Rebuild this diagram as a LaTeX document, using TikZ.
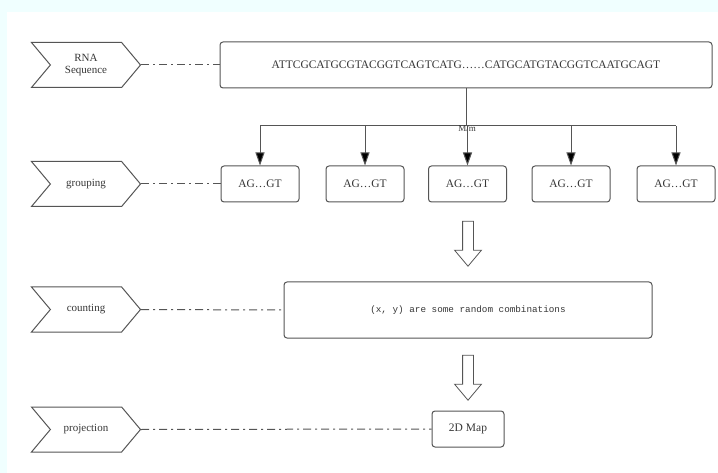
\documentclass[tikz,border=0pt]{standalone}
\usepackage{fontspec}
\setmainfont{Liberation Serif}
\setmonofont{Liberation Mono}
\usetikzlibrary{shapes.symbols,shapes.arrows,arrows.meta,positioning}
\definecolor{bgcyan}{RGB}{240,255,255}
\definecolor{linegray}{RGB}{85,85,85}
\definecolor{textgray}{RGB}{55,55,55}

\begin{document}
\begin{tikzpicture}[x=1pt,y=-1pt,line width=1pt,color=linegray,text=textgray,
        stage/.style={signal,signal from=west,signal to=east,signal pointer angle=100,
            draw,minimum width=109pt,minimum height=45pt,inner sep=0pt,
            font=\fontsize{11}{12}\selectfont,align=center},
        box/.style={draw,rounded corners=3pt,inner sep=0pt,font=\fontsize{11.5}{12}\selectfont},
        link/.style={dash pattern=on 8pt off 4pt on 2pt off 4pt},
        hollow/.style={single arrow,draw,shape border rotate=270,minimum height=45pt,
            minimum width=26pt,single arrow head extend=8pt,single arrow tip angle=80,
            inner sep=5pt,line width=0.8pt}]
        \useasboundingbox (0,0) rectangle (718,473);
        \fill[bgcyan] (0,0) rectangle (718,473);
        \fill[white] (7,12) rectangle (718,473);

        % left column
        \node[stage] (rna) at (86,65) {RNA\\Sequence};
        \node[stage] (grp) at (86,184) {grouping};
        \node[stage] (cnt) at (86,309.5) {counting};
        \node[stage] (proj) at (86,429.5) {projection};

        \node[box,minimum width=492pt,minimum height=46pt] (seq) at (466,65)
            {ATTCGCATGCGTACGGTCAGTCATG\ldots\ldots CATGCATGTACGGTCAATGCAGT};
        \foreach \i/\x in {1/260,2/365,3/467.5,4/571,5/676}
            \node[box,minimum width=78pt,minimum height=36pt] (g\i) at (\x,184) {AG\ldots GT};
        \node[box,minimum width=368pt,minimum height=56pt,font=\ttfamily\fontsize{9.3}{11}\selectfont]
            (count) at (468,310) {(x, y) are some random combinations};
        \node[box,minimum width=72pt,minimum height=36pt] (map) at (468,429) {2D Map};

        \draw[link] (rna.east) -- (seq.west);
        \draw[link] (grp.east) -- (g1.west);
        \draw[link] (cnt.east) -- (count.west);
        \draw[link] (proj.east) -- (map.west);

        \coordinate (split) at (466,126);
        \draw (seq.south) -- (split);
        \draw (g1.north |- split) -- (g5.north |- split);
        \foreach \i in {1,...,5}
            \draw[-{Triangle[width=9pt,length=13pt,fill=black]}] (g\i.north |- split) -- (g\i.north);
        \node[font=\fontsize{9}{10}\selectfont,inner sep=0pt] (mlabel) at (467,129) {M/m};

        \node[hollow] (down1) at (468,240.5) {};
        \node[hollow] (down2) at (468,374.5) {};
\end{tikzpicture}
\end{document}
